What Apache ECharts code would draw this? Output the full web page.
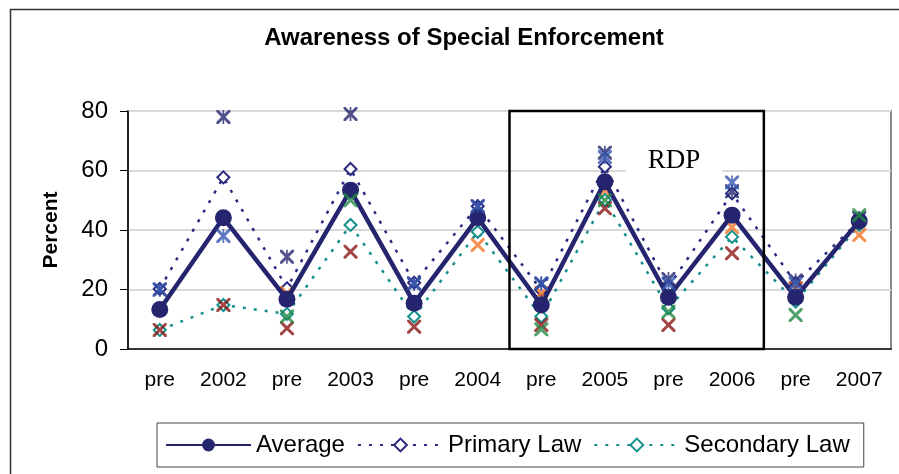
<!DOCTYPE html>
<html>
<head>
<meta charset="utf-8">
<script src="https://cdn.jsdelivr.net/npm/echarts@6/dist/echarts.min.js"></script>
<style>
  html, body { margin: 0; padding: 0; background: #ffffff; }
  #chart { width: 899px; height: 474px; }
</style>
</head>
<body>
<div id="chart"></div>
<script>
// Survey waves: a "pre" wave before each year's enforcement, then the post wave
const categories = ['pre', '2002', 'pre', '2003', 'pre', '2004', 'pre', '2005', 'pre', '2006', 'pre', '2007'];

// Group averages (percent aware)
const average      = [13.3, 44.1, 16.7, 53.4, 15.4, 44.1, 14.8, 56.2, 17.4, 45.0, 17.4, 43.0];
const primaryLaw   = [20.2, 57.7, 20.4, 60.5, 22.3, 48.0, 19.8, 61.3, 20.9, 52.3, 22.2, 43.0];
const secondaryLaw = [6.4, 14.8, 11.8, 41.7, 10.9, 39.4, 10.9, 50.1, 13.7, 37.7, 15.9, 41.7];

// Individual state results ('-' = no survey)
const primaryStateA   = [20, 78, 31, 79, 22, 48, 22, 66, 23.5, 53, 23, 44];
const primaryStateB   = [20, 38, '-', '-', 22, 48, 22, 64.5, 22, 56, 22, '-'];
const secondaryStateA = [6.4, 14.8, 7, 32.7, 7.5, '-', 8.1, 47.3, 8.1, 32.2, '-', '-'];
const secondaryStateB = ['-', '-', 10.9, 50, '-', '-', 6.6, 50, 12.5, '-', 11.4, 45];
const secondaryStateC = ['-', '-', 18.8, '-', '-', 35, 18.8, 53.4, 18.5, 41, 20.5, 38.3];

// Value axis ticks
const yMin = 0, yMax = 80, yStep = 20;

// Waves enclosed by the RDP box (first and last category index)
const rdpFirst = 6, rdpLast = 9;

const NAVY = '#25256f';
const NAVY_DOT = '#2a2a80';
const TEAL = '#14908c';

// Cross and asterisk glyphs drawn as filled outlines
const X_PATH = 'path://M0,0L3,0L10,7L17,0L20,0L20,3L13,10L20,17L20,20L17,20L10,13L3,20L0,20L0,17L7,10L0,3Z';
const STAR_PATH = 'path://M0,0L3,0L10,7L17,0L20,0L20,3L13,10L20,17L20,20L17,20L10,13L3,20L0,20L0,17L7,10L0,3Z M8.8,0L11.2,0L11.2,20L8.8,20Z';

function stateSeries(name, data, path, color, size, z) {
  return {
    name: name,
    type: 'scatter',
    data: data,
    symbol: path,
    symbolSize: size,
    itemStyle: { color: color },
    z: z,
    silent: true
  };
}

const chart = echarts.init(document.getElementById('chart'), null, { renderer: 'canvas' });

const option = {
  backgroundColor: '#ffffff',
  animation: false,
  title: {
    text: 'Awareness of Special Enforcement',
    left: 459,
    textAlign: 'center',
    top: 21,
    textStyle: { fontFamily: 'Liberation Sans, Arial, sans-serif', fontSize: 24, fontWeight: 'bold', color: '#000' }
  },
  grid: {
    left: 128, right: 8, top: 111, bottom: 125,
    show: true, borderColor: '#8a8a8a', borderWidth: 2, backgroundColor: 'transparent'
  },
  legend: {
    data: ['Average', 'Primary Law', 'Secondary Law'],
    left: 157, top: 423,
    padding: [10, 14, 10, 8],
    itemWidth: 85, itemHeight: 16, itemGap: 12,
    borderColor: '#444', borderWidth: 1,
    textStyle: { fontFamily: 'Liberation Sans, Arial, sans-serif', fontSize: 24, color: '#000' }
  },
  xAxis: {
    type: 'category',
    data: categories,
    boundaryGap: true,
    axisLine: { lineStyle: { color: '#000', width: 1.5 } },
    axisTick: { length: 5, lineStyle: { color: '#000' } },
    axisLabel: { margin: 21, fontFamily: 'Liberation Sans, Arial, sans-serif', fontSize: 21, color: '#000' },
    splitLine: { show: false }
  },
  yAxis: {
    type: 'value',
    min: yMin, max: yMax, interval: yStep,
    name: 'Percent',
    nameLocation: 'middle',
    nameGap: 66,
    nameRotate: 90,
    nameTextStyle: { fontFamily: 'Liberation Sans, Arial, sans-serif', fontSize: 21, fontWeight: 'bold', color: '#000' },
    axisLine: { show: true, lineStyle: { color: '#000', width: 1.5 } },
    axisTick: { show: true, length: 8, lineStyle: { color: '#000' } },
    axisLabel: { margin: 20, fontFamily: 'Liberation Sans, Arial, sans-serif', fontSize: 24, color: '#000' },
    splitLine: { lineStyle: { color: '#d9d9d9', width: 2 } }
  },
  series: [
    {
      name: 'Secondary Law', type: 'line', data: secondaryLaw, z: 2,
      symbol: 'emptyDiamond', symbolSize: 12,
      lineStyle: { color: TEAL, width: 2.5, type: [3, 8] },
      itemStyle: { color: TEAL, borderWidth: 2 }
    },
    {
      name: 'Primary Law', type: 'line', data: primaryLaw, z: 3,
      symbol: 'emptyDiamond', symbolSize: 12,
      lineStyle: { color: NAVY_DOT, width: 2.5, type: [3, 8] },
      itemStyle: { color: NAVY_DOT, borderWidth: 2 }
    },
    {
      name: 'Average', type: 'line', data: average, z: 4,
      symbol: 'circle', symbolSize: 17,
      lineStyle: { color: NAVY, width: 4.5 },
      itemStyle: { color: NAVY }
    },
    stateSeries('Primary state A', primaryStateA, STAR_PATH, NAVY, 14, 5),
    stateSeries('Primary state B', primaryStateB, STAR_PATH, '#3556b0', 14, 5),
    stateSeries('Secondary state A', secondaryStateA, X_PATH, '#8b1616', 14, 5),
    stateSeries('Secondary state B', secondaryStateB, X_PATH, '#238a45', 14, 5),
    stateSeries('Secondary state C', secondaryStateC, X_PATH, '#f27424', 14, 3)
  ]
};

chart.setOption(option);

// Annotations laid out from the axes: outer frame, the RDP box and its label
const c0 = chart.convertToPixel({ xAxisIndex: 0 }, rdpFirst);
const c1 = chart.convertToPixel({ xAxisIndex: 0 }, rdpFirst + 1);
const half = (c1 - c0) / 2;
const boxLeft = c0 - half;
const boxRight = chart.convertToPixel({ xAxisIndex: 0 }, rdpLast) + half;
const boxTop = chart.convertToPixel({ yAxisIndex: 0 }, yMax);
const boxBottom = chart.convertToPixel({ yAxisIndex: 0 }, yMin);

chart.setOption({
  graphic: [
    {
      type: 'rect', left: 8, top: 7, silent: true, z: 0,
      shape: { x: 0, y: 0, width: 900, height: 480 },
      style: { fill: 'none', stroke: '#333', lineWidth: 1.5 }
    },
    {
      type: 'rect', silent: true, z: 10,
      shape: { x: boxLeft, y: boxTop, width: boxRight - boxLeft, height: boxBottom - boxTop },
      style: { fill: 'none', stroke: '#000', lineWidth: 2.5 }
    },
    {
      type: 'text', silent: true, z: 11,
      x: 674, y: 161,
      style: {
        text: 'RDP', fill: '#000',
        font: '27px "Liberation Serif", "Times New Roman", serif',
        align: 'center', verticalAlign: 'middle',
        backgroundColor: '#fff', padding: [12, 22, 12, 22]
      }
    }
  ]
});
</script>
</body>
</html>
